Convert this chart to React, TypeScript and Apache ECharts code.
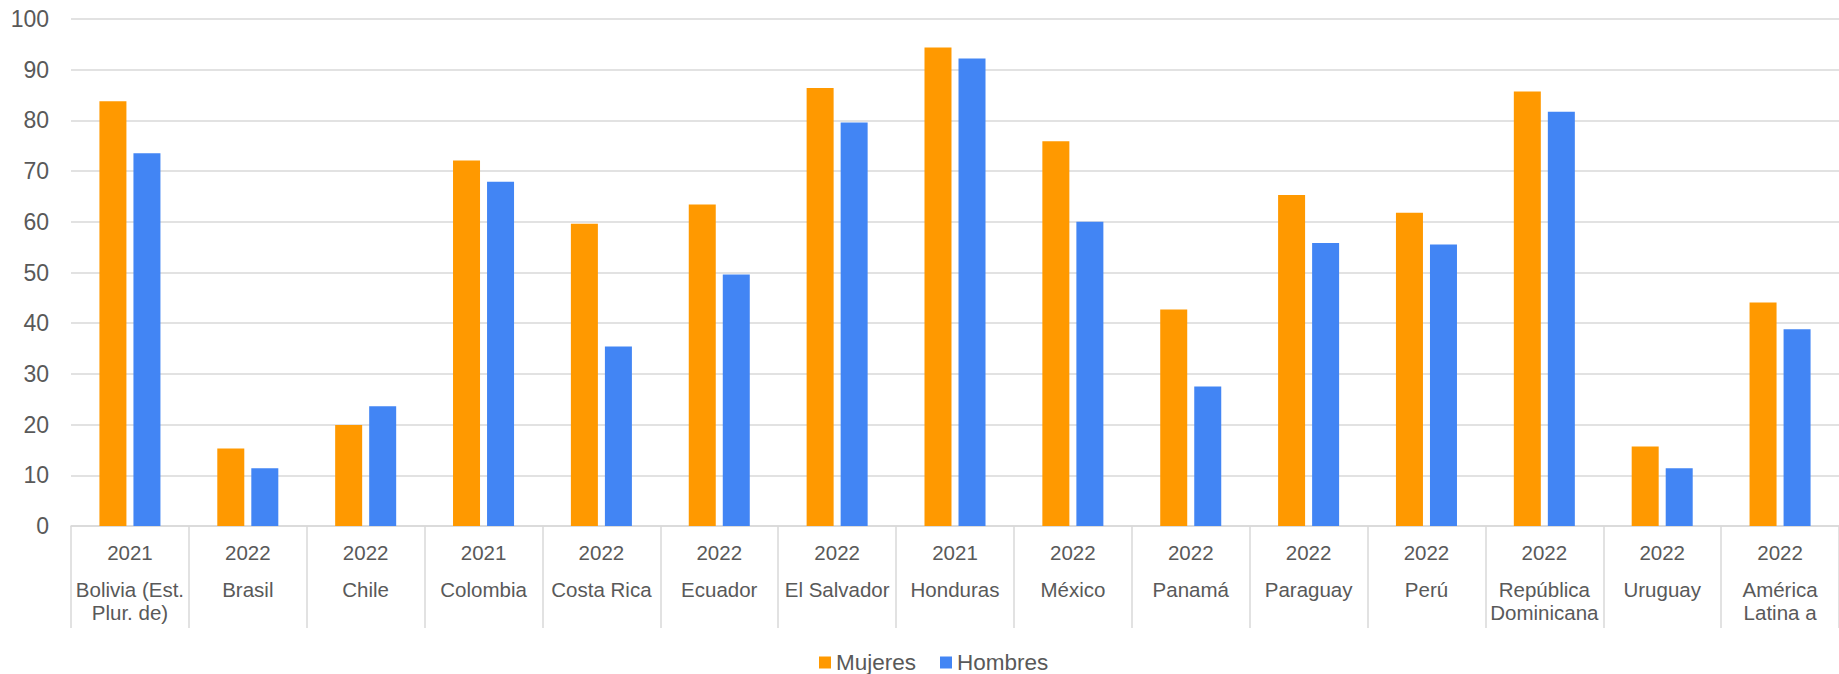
import React, { useEffect, useRef } from "react";
import * as echarts from "echarts";

const years = ["2021", "2022", "2022", "2021", "2022", "2022", "2022", "2021", "2022", "2022", "2022", "2022", "2022", "2022", "2022"];
const countries = [
  "Bolivia (Est.\nPlur. de)",
  "Brasil",
  "Chile",
  "Colombia",
  "Costa Rica",
  "Ecuador",
  "El Salvador",
  "Honduras",
  "México",
  "Panamá",
  "Paraguay",
  "Perú",
  "República\nDominicana",
  "Uruguay",
  "América\nLatina a",
];
const mujeres = [83.8, 15.3, 19.9, 72.1, 59.6, 63.4, 86.4, 94.4, 75.9, 42.7, 65.3, 61.8, 85.7, 15.7, 44.1];
const hombres = [73.5, 11.4, 23.6, 67.9, 35.4, 49.6, 79.6, 92.2, 60.0, 27.5, 55.8, 55.5, 81.7, 11.4, 38.8];
const yTicks = { min: 0, max: 100, interval: 10 };

const categories = countries.map((c, i) => years[i] + "|" + c);

export default function App() {
  const ref = useRef<HTMLDivElement>(null);
  useEffect(() => {
    if (!ref.current) return;
    const chart = echarts.init(ref.current, null, { renderer: "svg" });
    const font = "'Liberation Sans', Arial, sans-serif";
    chart.setOption({
      animation: false,
      backgroundColor: "#ffffff",
      textStyle: { fontFamily: font },
      grid: { left: 71, right: -7, top: 19, bottom: 148, containLabel: false },
      legend: {
        left: 819,
        top: 651,
        padding: 0,
        itemWidth: 12,
        itemHeight: 12,
        itemGap: 24,
        icon: "rect",
        textStyle: { fontSize: 22.5, lineHeight: 23, color: "#595959", fontFamily: font },
        data: ["Mujeres", "Hombres"],
      },
      xAxis: {
        type: "category",
        data: categories,
        axisLine: { lineStyle: { color: "#D9D9D9", width: 1.5 } },
        axisTick: { show: true, length: 102, interval: 0, lineStyle: { color: "#D9D9D9", width: 1.5 } },
        axisLabel: {
          interval: 0,
          margin: 0,
          formatter: (v: string) => {
            const [y, c] = v.split("|");
            const lines = c.split("\n").map((l) => "{c|" + l + "}");
            return "{y|" + y + "}\n" + lines.join("\n");
          },
          rich: {
            y: { fontSize: 20.5, lineHeight: 52, color: "#595959", fontFamily: font },
            c: { fontSize: 20.5, lineHeight: 23, color: "#595959", fontFamily: font },
          },
        },
      },
      yAxis: {
        type: "value",
        min: yTicks.min,
        max: yTicks.max,
        interval: yTicks.interval,
        axisLine: { show: false },
        axisTick: { show: false },
        axisLabel: { fontSize: 23, color: "#595959", margin: 22, fontFamily: font },
        splitLine: { lineStyle: { color: "#D9D9D9", width: 1.5 } },
      },
      series: [
        {
          name: "Mujeres",
          type: "bar",
          data: mujeres,
          barWidth: 27,
          barGap: "26%",
          itemStyle: { color: "#FF9900" },
        },
        {
          name: "Hombres",
          type: "bar",
          data: hombres,
          barWidth: 27,
          barGap: "26%",
          itemStyle: { color: "#4285F4" },
        },
      ],
    });
    return () => chart.dispose();
  }, []);
  return (
    <div
      ref={ref}
      style={{ position: "fixed", left: 0, top: 0, width: 1839, height: 674, background: "#fff" }}
    />
  );
}
